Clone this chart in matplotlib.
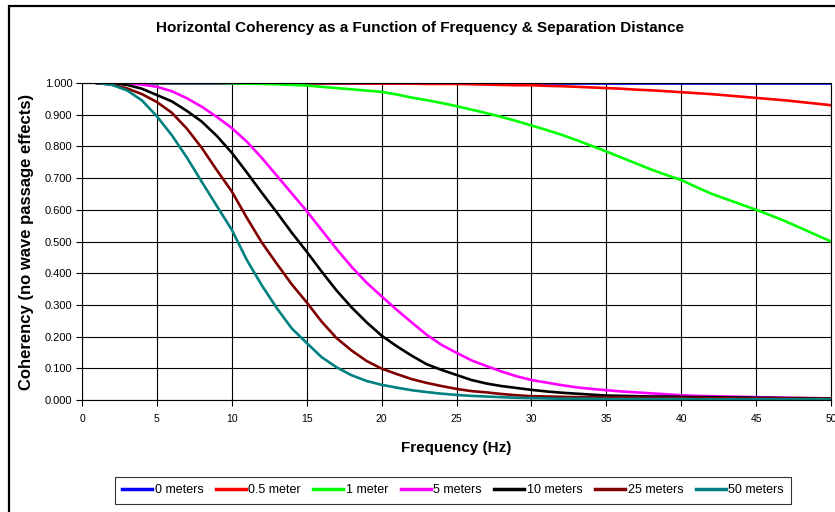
import matplotlib
matplotlib.use("Agg")
import matplotlib.pyplot as plt
from matplotlib.patches import Rectangle

plt.rcParams['font.family'] = ['Liberation Sans', 'DejaVu Sans']

freq = list(range(1, 51))

labels = ["0 meters", "0.5 meter", "1 meter", "5 meters", "10 meters", "25 meters", "50 meters"]
colors = ["#0000FF", "#FF0000", "#00FF00", "#FF00FF", "#000000", "#800000", "#008080"]

coh_0m = [1.000, 1.000, 1.000, 1.000, 1.000, 1.000, 1.000, 1.000, 1.000, 1.000,
          1.000, 1.000, 1.000, 1.000, 1.000, 1.000, 1.000, 1.000, 1.000, 1.000,
          1.000, 1.000, 1.000, 1.000, 1.000, 1.000, 1.000, 1.000, 1.000, 1.000,
          1.000, 1.000, 1.000, 1.000, 1.000, 1.000, 1.000, 1.000, 1.000, 1.000,
          1.000, 1.000, 1.000, 1.000, 1.000, 1.000, 1.000, 1.000, 1.000, 1.000]

coh_05m = [1.000, 1.000, 1.000, 1.000, 1.000, 1.000, 1.000, 1.000, 1.000, 1.000,
           1.000, 1.000, 0.999, 0.999, 0.999, 0.999, 0.999, 0.999, 0.998, 0.998,
           0.998, 0.998, 0.997, 0.997, 0.997, 0.996, 0.995, 0.994, 0.993, 0.993,
           0.991, 0.990, 0.988, 0.986, 0.984, 0.982, 0.979, 0.977, 0.974, 0.971,
           0.968, 0.965, 0.961, 0.957, 0.953, 0.949, 0.945, 0.940, 0.935, 0.930]

coh_1m = [1.000, 1.000, 1.000, 1.000, 1.000, 1.000, 1.000, 1.000, 1.000, 0.999,
          0.998, 0.997, 0.996, 0.994, 0.992, 0.988, 0.984, 0.980, 0.976, 0.972,
          0.964, 0.954, 0.946, 0.937, 0.927, 0.916, 0.905, 0.893, 0.880, 0.866,
          0.852, 0.837, 0.820, 0.802, 0.784, 0.765, 0.746, 0.727, 0.710, 0.694,
          0.672, 0.651, 0.634, 0.617, 0.600, 0.582, 0.563, 0.542, 0.521, 0.500]

coh_5m = [1.000, 1.000, 1.000, 0.995, 0.988, 0.974, 0.952, 0.925, 0.893, 0.858,
          0.815, 0.764, 0.708, 0.652, 0.596, 0.536, 0.476, 0.420, 0.370, 0.327,
          0.285, 0.245, 0.206, 0.174, 0.149, 0.125, 0.107, 0.090, 0.075, 0.063,
          0.055, 0.047, 0.040, 0.035, 0.031, 0.027, 0.024, 0.021, 0.018, 0.015,
          0.013, 0.012, 0.011, 0.010, 0.009, 0.008, 0.007, 0.006, 0.006, 0.005]

coh_10m = [1.000, 1.000, 0.994, 0.982, 0.962, 0.942, 0.912, 0.878, 0.833, 0.780,
           0.718, 0.654, 0.592, 0.528, 0.468, 0.405, 0.345, 0.292, 0.245, 0.203,
           0.170, 0.140, 0.113, 0.095, 0.079, 0.063, 0.052, 0.044, 0.038, 0.032,
           0.027, 0.023, 0.020, 0.017, 0.014, 0.013, 0.012, 0.011, 0.011, 0.010,
           0.009, 0.009, 0.008, 0.008, 0.007, 0.007, 0.006, 0.006, 0.005, 0.005]

coh_25m = [1.000, 0.995, 0.983, 0.965, 0.940, 0.906, 0.856, 0.795, 0.725, 0.658,
           0.575, 0.497, 0.430, 0.365, 0.308, 0.247, 0.195, 0.156, 0.123, 0.099,
           0.082, 0.066, 0.054, 0.044, 0.035, 0.028, 0.024, 0.019, 0.015, 0.012,
           0.011, 0.010, 0.009, 0.009, 0.008, 0.008, 0.008, 0.007, 0.007, 0.007,
           0.006, 0.006, 0.006, 0.005, 0.005, 0.005, 0.005, 0.004, 0.004, 0.004]

coh_50m = [1.000, 0.994, 0.977, 0.945, 0.895, 0.835, 0.765, 0.688, 0.612, 0.537,
           0.442, 0.362, 0.290, 0.226, 0.180, 0.135, 0.103, 0.078, 0.060, 0.048,
           0.039, 0.031, 0.025, 0.020, 0.016, 0.013, 0.011, 0.009, 0.007, 0.006,
           0.005, 0.004, 0.004, 0.004, 0.003, 0.003, 0.003, 0.003, 0.003, 0.003,
           0.002, 0.002, 0.002, 0.002, 0.002, 0.002, 0.002, 0.002, 0.002, 0.002]

series = [coh_0m, coh_05m, coh_1m, coh_5m, coh_10m, coh_25m, coh_50m]

x_ticks = [0, 5, 10, 15, 20, 25, 30, 35, 40, 45, 50]
y_ticks = [0.0, 0.1, 0.2, 0.3, 0.4, 0.5, 0.6, 0.7, 0.8, 0.9, 1.0]

W, H = 835, 512
fig = plt.figure(figsize=(W / 100, H / 100), dpi=100)
fig.patch.set_facecolor("white")

# outer chart border (left and top visible)
fig.patches.append(Rectangle((9 / W, -0.1), 1.2, 1 - 6 / H + 0.1, transform=fig.transFigure,
                             fill=False, edgecolor="black", linewidth=1.6, zorder=0))

ax = fig.add_axes([82 / W, 1 - 400 / H, (831 - 82) / W, (400 - 83) / H])

for vals, lab, col in zip(series, labels, colors):
    ax.plot(freq, vals, color=col, linewidth=1.9, label=lab, solid_joinstyle="round")

ax.set_xlim(0, 50)
ax.set_ylim(0, 1.0)
ax.set_xticks(x_ticks)
ax.set_yticks(y_ticks)
ax.set_yticklabels([f"{v:.3f}" for v in y_ticks])
ax.grid(True, color="black", linewidth=0.8)
ax.set_axisbelow(True)
ax.tick_params(axis="both", direction="out", length=4, width=0.8, labelsize=8, pad=3)
ax.tick_params(axis="x", pad=6, labelsize=7.5)
for s in ax.spines.values():
    s.set_linewidth(0.8)
    s.set_color("black")

ax.set_xlabel("Frequency (Hz)", fontsize=11, fontweight="bold", labelpad=12)
ax.set_ylabel("Coherency (no wave passage effects)", fontsize=12, fontweight="bold", labelpad=8)

fig.text(420 / W, 1 - 28 / H, "Horizontal Coherency as a Function of Frequency & Separation Distance",
         ha="center", va="center", fontsize=11, fontweight="bold")

leg = fig.legend(loc="center", bbox_to_anchor=(453 / W, 1 - 490 / H), ncol=7, fontsize=9,
                 frameon=True, fancybox=False, edgecolor="black", handlelength=2.4,
                 handletextpad=0.2, columnspacing=1.0, borderpad=0.6)
leg.get_frame().set_linewidth(0.8)
for line in leg.get_lines():
    line.set_linewidth(2.5)

fig.savefig("out.png", dpi=100)
